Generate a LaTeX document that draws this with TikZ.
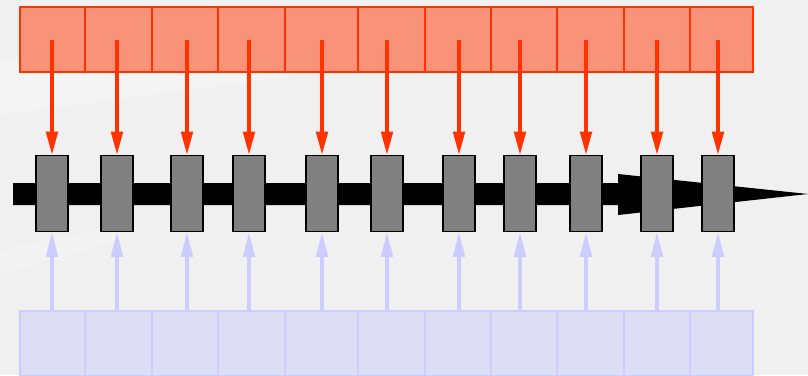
\documentclass[tikz,border=0pt]{standalone}
\usepackage{tikz}
\usetikzlibrary{arrows.meta}

\definecolor{bgray}{HTML}{F0F0F0}
\definecolor{redline}{HTML}{FF3300}
\definecolor{redfill}{HTML}{F8937A}
\definecolor{blueline}{HTML}{CCCCFF}
\definecolor{bluefill}{HTML}{DDDDF5}
\definecolor{boxgray}{HTML}{808080}

\tikzset{
	topcell/.style={draw=redline, fill=redfill, line width=1.5pt, minimum height=1.625cm, inner sep=0pt, outer sep=0pt},
	botcell/.style={draw=blueline, fill=bluefill, line width=1.5pt, minimum height=1.625cm, inner sep=0pt, outer sep=0pt},
	gatebox/.style={draw=black, fill=boxgray, line width=1.3pt, minimum width=0.8cm, minimum height=1.9cm, inner sep=0pt, outer sep=0pt},
	redarrow/.style={draw=redline, line width=3pt, -{Triangle[length=17pt,width=8pt]}},
	bluearrow/.style={draw=blueline, line width=3pt, -{Triangle[length=18pt,width=8pt]}}
}

\begin{document}
\begin{tikzpicture}[x=0.025cm, y=-0.025cm]
	%\draw[help lines, thick] (0,0) grid (808,375);
	\fill[bgray] (0,0) rectangle (808,375);
	\useasboundingbox (0,0) rectangle (808,375);
	% faint light streaks on the left
	\fill[white, opacity=0.3] (0,60) -- (300,40) -- (300,75) -- (0,115) -- cycle;
	\fill[white, opacity=0.25] (0,250) -- (120,225) -- (120,240) -- (0,275) -- cycle;
	% the long black arrow
	\fill[black] (13,183) -- (618,183) -- (618,174) -- (808,194) -- (618,215) -- (618,205) -- (13,205) -- cycle;
	\foreach \l/\r/\g [count=\i] in {20/85/52, 85/152/117, 152/218/187, 218/285/249, 285/358/322, 358/425/387, 425/491/459, 491/557/520, 557/624/586, 624/690/657, 690/753/718} {
		\node[topcell, minimum width={(\r-\l)*0.025cm}] (t\i) at ({(\l+\r)/2},39.5) {};
		\node[botcell, minimum width={(\r-\l)*0.025cm}] (b\i) at ({(\l+\r)/2},343.5) {};
		\node[gatebox] (g\i) at (\g,193.5) {};
		\draw[redarrow] (g\i |- t\i.center) -- (g\i.north);
		\draw[bluearrow] (g\i |- b\i.north) -- (g\i.south);
	}
\end{tikzpicture}
\end{document}
